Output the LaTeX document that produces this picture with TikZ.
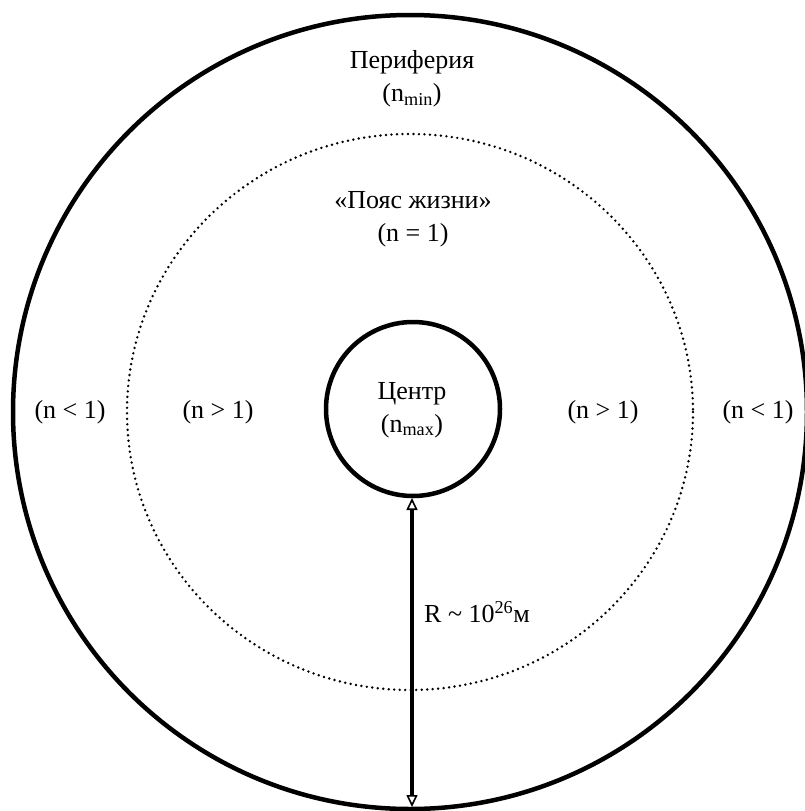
\documentclass[tikz,border=0pt]{standalone}
\usepackage{fontspec}
\setmainfont{Liberation Serif}
\usetikzlibrary{arrows.meta}
\tikzset{
  lbl/.style={inner sep=0pt, align=center, font=\fontsize{26}{33}\selectfont},
  ring/.style={draw=black, line width=4.5pt},
  belt/.style={draw=black, line width=2.7pt, line cap=round, dash pattern=on 0pt off 5.5pt},
  radius arrow/.style={line width=4pt, {Triangle[open, width=11pt, length=12pt, line width=1.6pt]}-{Triangle[open, width=11pt, length=12pt, line width=1.6pt]}}
}
\begin{document}
\begin{tikzpicture}[x=1pt,y=-1pt]
\useasboundingbox (0,0) rectangle (805,811);
\fill[white] (0,0) rectangle (805,811);
% outer boundary
\draw[ring] (410,412) circle[radius=397];
% belt of life (dotted)
\draw[belt] (410,412) ellipse[x radius=283, y radius=278];
% centre circle
\node[ring, circle, minimum size=174pt, inner sep=0pt] (centre) at (413,409) {};
\node[lbl] (centrelbl) at (412,410) {Центр\\(n\textsubscript{max})};
% labels
\node[lbl] (periph) at (412,79) {Периферия\\(n\textsubscript{min})};
\node[lbl] (belt) at (413,219) {«Пояс жизни»\\(n = 1)};
\node[lbl] (ltout) at (70,412) {(n < 1)};
\node[lbl] (rtout) at (758,412) {(n < 1)};
\node[lbl] (ltin) at (218,412) {(n > 1)};
\node[lbl] (rtin) at (603,412) {(n > 1)};
% radius arrow
\coordinate (rtop) at (412,498);
\coordinate (rbot) at (412,807);
\draw[radius arrow] (rtop) -- (rbot);
\node[lbl, anchor=west] (rlbl) at (424,612) {R \textasciitilde{} 10\textsuperscript{26}м};
\end{tikzpicture}
\end{document}
